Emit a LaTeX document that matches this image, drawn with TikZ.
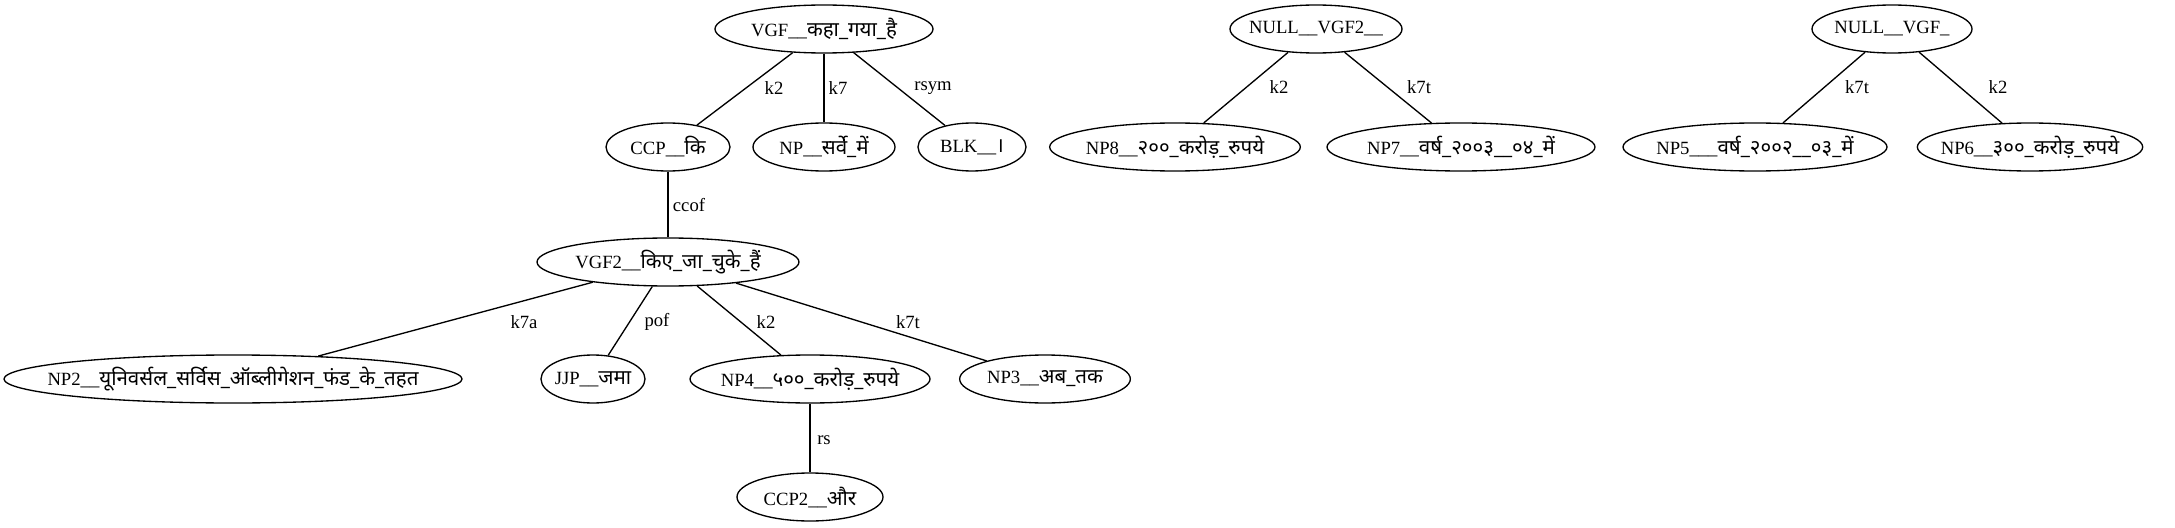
\documentclass[tikz,border=0pt]{standalone}
\usepackage{fontspec}
\setmainfont{Liberation Serif}
\newfontfamily\devafont[Script=Devanagari,Scale=1.1]{Noto Sans}
\newcommand{\dev}[1]{{\devafont #1}}
\usetikzlibrary{shapes.geometric}

\begin{document}
\begin{tikzpicture}[x=0.75pt, y=-0.75pt, line width=1pt,
	vtx/.style={ellipse, draw, minimum height=36pt, inner xsep=-60pt, inner ysep=0pt, font=\fontsize{14pt}{16pt}\selectfont},
	lbl/.style={inner sep=0pt, font=\fontsize{14pt}{16pt}\selectfont}]

		\useasboundingbox (0,0) rectangle (2175,528);

		% Arbol 1
		\node[vtx, minimum width=163.5pt] (vgf) at (824,29) {VGF\_\_\dev{कहा\_गया\_है}};
		\node[vtx, minimum width=93pt] (ccp) at (668,147) {CCP\_\_\dev{कि}};
		\node[vtx, minimum width=106.5pt] (sarve) at (824,147) {NP\_\_\dev{सर्वे\_में}};
		\node[vtx, minimum width=81pt] (blk) at (972,147) {BLK\_\_\dev{।}};
		\node[vtx, minimum width=196.5pt] (vgftwo) at (668,262) {VGF2\_\_\dev{किए\_जा\_चुके\_हैं}};
		\node[vtx, minimum width=343.5pt] (nptwo) at (233,379) {NP2\_\_\dev{यूनिवर्सल\_सर्विस\_ऑब्लीगेशन\_फंड\_के\_तहत}};
		\node[vtx, minimum width=78pt] (jjp) at (593,379) {JJP\_\_\dev{जमा}};
		\node[vtx, minimum width=180pt] (npfour) at (810,379) {NP4\_\_\dev{५००\_करोड़\_रुपये}};
		\node[vtx, minimum width=128pt] (npthree) at (1045,379) {NP3\_\_\dev{अब\_तक}};
		\node[vtx, minimum width=109.5pt] (ccptwo) at (810,497) {CCP2\_\_\dev{और}};

		% Arbol 2
		\node[vtx, minimum width=129pt] (nullvgftwo) at (1316,29) {NULL\_\_VGF2\_\_};
		\node[vtx, minimum width=188pt] (npeight) at (1175,147) {NP8\_\_\dev{२००\_करोड़\_रुपये}};
		\node[vtx, minimum width=201pt] (npseven) at (1461,147) {NP7\_\_\dev{वर्ष\_२००३\_\_०४\_में}};

		% Arbol 3
		\node[vtx, minimum width=120pt] (nullvgf) at (1892,29) {NULL\_\_VGF\_};
		\node[vtx, minimum width=198pt] (npfive) at (1755,147) {NP5\_\_\_\dev{वर्ष\_२००२\_\_०३\_में}};
		\node[vtx, minimum width=169pt] (npsix) at (2030,147) {NP6\_\_\dev{३००\_करोड़\_रुपये}};

		% Aristas
		\draw (vgf) -- (ccp);
		\draw (vgf) -- (sarve);
		\draw (vgf) -- (blk);
		\draw (ccp) -- (vgftwo);
		\draw (vgftwo) -- (nptwo);
		\draw (vgftwo) -- (jjp);
		\draw (vgftwo) -- (npfour);
		\draw (vgftwo) -- (npthree);
		\draw (npfour) -- (ccptwo);
		\draw (nullvgftwo) -- (npeight);
		\draw (nullvgftwo) -- (npseven);
		\draw (nullvgf) -- (npfive);
		\draw (nullvgf) -- (npsix);

		% Etiquetas
		\node[lbl] (lkdos) at (774,88) {k2};
		\node[lbl] (lksiete) at (838,88) {k7};
		\node[lbl] (lrsym) at (933,88) {rsym};
		\node[lbl] (lccof) at (689,205) {ccof};
		\node[lbl] (lksietea) at (524,322) {k7a};
		\node[lbl] (lpof) at (657,322) {pof};
		\node[lbl] (lkdosb) at (766,322) {k2};
		\node[lbl] (lksietet) at (908,322) {k7t};
		\node[lbl] (lrs) at (824,440) {rs};
		\node[lbl] (lkdosc) at (1279,87) {k2};
		\node[lbl] (lksietetb) at (1419,87) {k7t};
		\node[lbl] (lksietetc) at (1857,87) {k7t};
		\node[lbl] (lkdosd) at (1998,87) {k2};
	\end{tikzpicture}
\end{document}
